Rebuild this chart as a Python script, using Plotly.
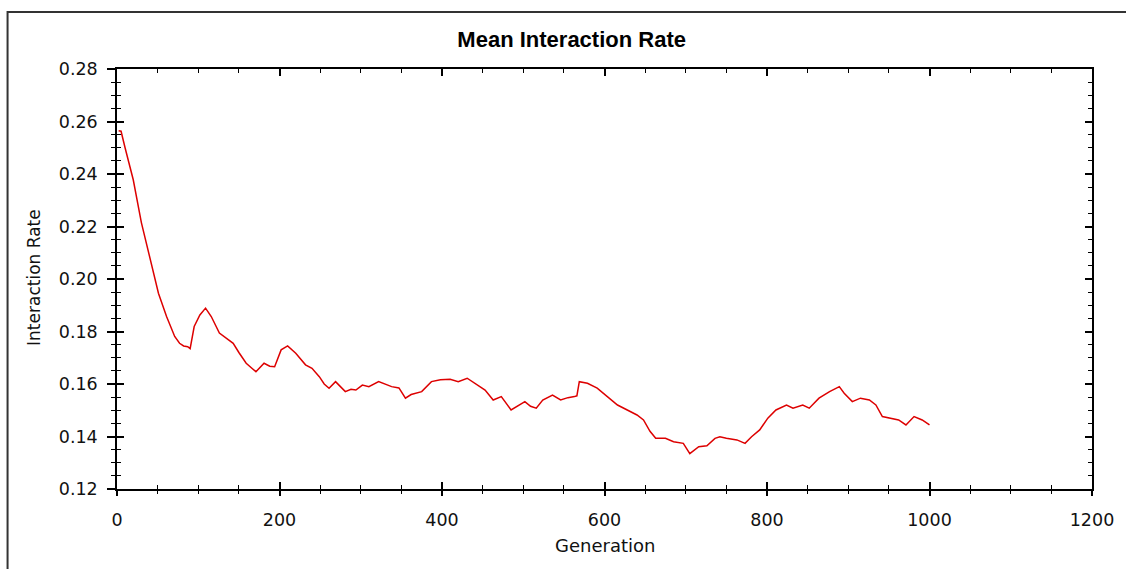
import plotly.graph_objects as go

generation = [2, 5, 10, 20, 30, 40, 51, 61, 71, 77, 82, 87, 90, 95, 102, 109, 116, 126, 135, 143,
              150, 159, 166, 171, 181, 188, 194, 202, 210, 220, 232, 240, 249, 255, 261, 269, 275,
              281, 288, 294, 302, 310, 322, 330, 338, 347, 355, 362, 368, 375, 387, 398, 410, 420,
              431, 440, 453, 463, 473, 485, 493, 502, 509, 516, 524, 536, 546, 555, 563, 566, 569,
              579, 591, 603, 616, 628, 640, 648, 656, 663, 675, 685, 697, 705, 716, 726, 736, 742,
              750, 763, 773, 781, 791, 801, 811, 824, 832, 844, 852, 864, 877, 889, 895, 905, 915,
              926, 934, 942, 952, 962, 971, 981, 991, 1000]
rate = [0.2565, 0.2563, 0.2499, 0.2378, 0.2215, 0.2086, 0.1946, 0.1857, 0.1781, 0.1755, 0.1745,
        0.1742, 0.1735, 0.1819, 0.1863, 0.1889, 0.1857, 0.1794, 0.1775, 0.1755,
        0.1720, 0.1679, 0.1660, 0.1647, 0.1679, 0.1668, 0.1666, 0.1730, 0.1745, 0.1717, 0.1673,
        0.1660, 0.1628, 0.1600, 0.1584, 0.1609, 0.1590,
        0.1571, 0.1580, 0.1577, 0.1596, 0.1590, 0.1609, 0.1600, 0.1590, 0.1585, 0.1546, 0.1560,
        0.1565, 0.1571, 0.1609, 0.1616, 0.1618, 0.1609,
        0.1622, 0.1603, 0.1577, 0.1539, 0.1552, 0.1501, 0.1515, 0.1533, 0.1515, 0.1508, 0.1539,
        0.1558, 0.1539, 0.1548, 0.1552, 0.1555, 0.1609,
        0.1603, 0.1584, 0.1552, 0.1520, 0.1501, 0.1482, 0.1463, 0.1420, 0.1393, 0.1393, 0.1380,
        0.1374, 0.1335, 0.1361, 0.1365, 0.1393, 0.1399,
        0.1393, 0.1387, 0.1374, 0.1399, 0.1425, 0.1470, 0.1501, 0.1520, 0.1508, 0.1520, 0.1508,
        0.1546, 0.1571, 0.1590, 0.1565, 0.1533, 0.1546,
        0.1539, 0.1520, 0.1476, 0.1470, 0.1463, 0.1444, 0.1476, 0.1463, 0.1444]

x_ticks = [0, 200, 400, 600, 800, 1000, 1200]
y_ticks = [0.12, 0.14, 0.16, 0.18, 0.20, 0.22, 0.24, 0.26, 0.28]
y_labels = ["0.12", "0.14", "0.16", "0.18", "0.20", "0.22", "0.24", "0.26", "0.28"]

FONT = "DejaVu Sans"
fig = go.Figure()
fig.add_trace(go.Scatter(x=generation, y=rate, mode="lines",
                         line=dict(color="#dd0000", width=1.5), showlegend=False))
fig.add_trace(go.Scatter(x=[], y=[], xaxis="x2", yaxis="y2", showlegend=False))

common = dict(showgrid=False, zeroline=False, tickcolor="black", tickwidth=1.5,
              showline=True, linecolor="black", linewidth=1.5)

fig.update_layout(
    width=1126, height=569,
    margin=dict(l=117, r=29, t=69, b=80),
    paper_bgcolor="white", plot_bgcolor="white",
    font=dict(family=FONT, size=17, color="#111111"),
    title=dict(text="<b>Mean Interaction Rate</b>", x=(574 - 117) / 980, xref="paper",
               xanchor="center", y=1 - 39 / 569, yanchor="middle",
               font=dict(family="Liberation Sans", size=22, color="black")),
    xaxis=dict(range=[0, 1200], tickvals=x_ticks, ticks="outside", ticklen=5,
               mirror=True, ticklabelstandoff=9,
               minor=dict(dtick=50, tick0=0, ticks="outside", ticklen=3,
                          tickcolor="black", tickwidth=1.2),
               tickfont=dict(family=FONT, size=17.5), **common),
    yaxis=dict(range=[0.12, 0.28], tickvals=y_ticks, ticktext=y_labels, ticks="outside",
               ticklen=8, mirror=True, ticklabelstandoff=6,
               minor=dict(dtick=0.005, tick0=0.12, ticks="outside", ticklen=4,
                          tickcolor="black", tickwidth=1.2),
               tickfont=dict(family=FONT, size=17.5), **common),
    xaxis2=dict(range=[0, 1200], overlaying="x", anchor="y2", tickvals=x_ticks,
                ticks="inside", ticklen=7, mirror="ticks", showticklabels=False,
                minor=dict(dtick=50, tick0=0, ticks="inside", ticklen=4,
                           tickcolor="black", tickwidth=1.2), **common),
    yaxis2=dict(range=[0.12, 0.28], overlaying="y", anchor="x2", tickvals=y_ticks,
                ticks="inside", ticklen=7, mirror="ticks", showticklabels=False,
                minor=dict(dtick=0.005, tick0=0.12, ticks="inside", ticklen=4,
                           tickcolor="black", tickwidth=1.2), **common),
    annotations=[
        dict(text="Generation", xref="paper", yref="paper", x=(607 - 117) / 980,
             y=(489 - 545) / 420, xanchor="center", yanchor="middle", showarrow=False,
             font=dict(family=FONT, size=18, color="#111111")),
        dict(text="Interaction Rate", xref="paper", yref="paper", x=(33.5 - 117) / 980,
             y=(489 - 277) / 420, xanchor="center", yanchor="middle", showarrow=False,
             textangle=-90, font=dict(family=FONT, size=17, color="#111111")),
    ],
    shapes=[dict(type="rect", xref="paper", yref="paper", x0=(7 - 117) / 980, x1=1.05,
                 y0=-0.3, y1=(489 - 12) / 420, line=dict(color="#333333", width=2),
                 fillcolor="rgba(0,0,0,0)", layer="below")],
)

fig.write_html("out.html", config={"displayModeBar": False},
               post_script="document.body.style.margin='0';document.body.style.overflow='hidden';")
